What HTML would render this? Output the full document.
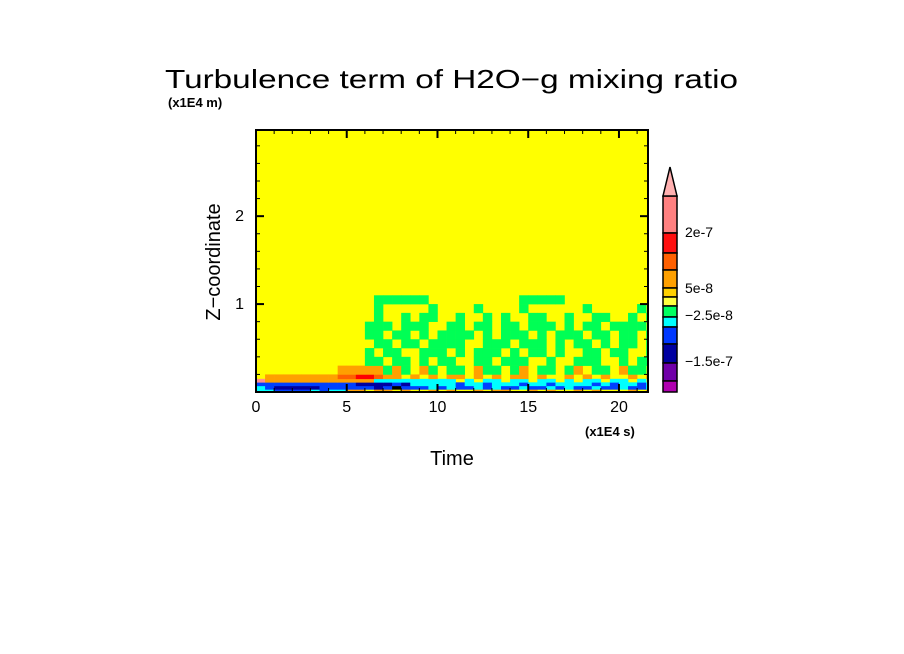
<!DOCTYPE html>
<html><head><meta charset="utf-8"><style>
html,body{margin:0;padding:0;background:#fff;}
svg{display:block;font-family:"Liberation Sans",sans-serif;}
</style></head><body>
<svg id="chart" width="904" height="654" viewBox="0 0 904 654">
<rect width="904" height="654" fill="#fff"/>
<text x="165" y="88" font-size="26" textLength="573" lengthAdjust="spacingAndGlyphs">Turbulence term of H2O−g mixing ratio</text>
<text x="168" y="107" font-size="13" font-weight="bold">(x1E4 m)</text>
<text x="0" y="0" font-size="20" transform="translate(220,262) rotate(-90)" text-anchor="middle">Z−coordinate</text>
<text x="452" y="465" font-size="20" text-anchor="middle">Time</text>
<text x="585" y="436" font-size="13" font-weight="bold">(x1E4 s)</text>
<g id="plot"></g>
<g id="axes"></g>
<g id="cbar"></g>
</svg>
<script>
const xTicks=[0,5,10,15,20];
const yTicks=[1,2];
const zEdges=[0,0.03,0.07,0.11,0.15,0.2,0.3,0.4,0.5,0.6,0.7,0.8,0.9,1.0,1.1];
const fieldRows=[
"ccbbbbcbccooyooyoyyoyoyyoyooyyoyoyyoyoyyyoyo",
"cbDDDDDbbbbbbDbBbbbcbcbbcbcbbcbbcbcbbcbbcbbc",
"bbbbbbbbbbbDDDDbDcccccbccbcccbccbccccbcbccbc",
"Poooooooooooocccccccccycyccyccyccycyccyccycy",
"yoooooooorrRRrooyoyoyooyoyoyooyoyyoyoyoyyoyo",
"yyyyyyyyyoooooGoGyoGyGGyoGGyGoyGGyGoyGGyoGGy",
"yyyyyyyyyyyyGGyGGyGyGGyyGGyGGGyyGyyGGGyyGyGG",
"yyyyyyyyyyyyGyGGyyGGGyGyGGGyGyGGyGyyGGyGGyyG",
"yyyyyyyyyyyyyGGyGGyGGGGyyGGGyGGGyGyGGyGyGGyG",
"yyyyyyyyyyyyGGyGGyGyGGGGyGyGGGyGyGGGyGGyGGyG",
"yyyyyyyyyyyyGGGyGGGyyGGyGGyGGyGGGyGyGGyGGGGy",
"yyyyyyyyyyyyyGyyGyGGyyGyyGyGyyGGyyGyyGGyyGyG",
"yyyyyyyyyyyyyGyyyyyGyyyyGyyyyGyyyyyyGyyyyyGy",
"yyyyyyyyyyyyyGGGGGGyyyyyyyyyyGGGGGyyyyyyyyyy"
];
const timeStep=0.5;
const cbLabels=["2e-7","5e-8","−2.5e-8","−1.5e-7"];
const colorCodes={y:"#ffff00",G:"#00ff55",c:"#00ffff",b:"#0040ff",D:"#0000a0",o:"#ffa000",r:"#ff6000",R:"#ff0000",P:"#ff9090"};
const cbColors=["#ff8080","#ff1010","#ff6000","#ffa000","#ffd000","#ffff40","#00ff60","#00ffff","#0038ff","#0000a0","#7000a8","#b000b0"];
const NS="http://www.w3.org/2000/svg";
const X0=256,X1=648,Y0=392,Y1=130,TMAX=21.6,ZMAX=2.98;
const xs=t=>X0+(X1-X0)*t/TMAX, ys=z=>Y0-(Y0-Y1)*z/ZMAX;
function mk(tag,attrs,parent){const e=document.createElementNS(NS,tag);for(const k in attrs)e.setAttribute(k,attrs[k]);parent.appendChild(e);return e;}
const plot=document.getElementById('plot'),axes=document.getElementById('axes'),cbar=document.getElementById('cbar');
const bg=mk('rect',{x:X0,y:Y1,width:X1-X0,height:Y0-Y1,fill:"#ffff00"},plot);


fieldRows.forEach((row,ri)=>{
  for(let i=0;i<row.length;i++){
    const ch=row[i]; if(ch==='y')continue;
    const t0=i*timeStep,t1=Math.min((i+1)*timeStep,TMAX);
    if(t0>=TMAX)continue;
    const r=mk('rect',{x:xs(t0),y:ys(zEdges[ri+1]),width:xs(t1)-xs(t0)+0.3,height:ys(zEdges[ri])-ys(zEdges[ri+1])+0.3,fill:colorCodes[ch]},plot);
    
    
  }
});
const frame=mk('rect',{x:X0,y:Y1,width:X1-X0,height:Y0-Y1,fill:"none",stroke:"#000","stroke-width":2},axes);


for(let t=0;t<=TMAX;t+=1){const big=t%5===0;
  mk('line',{x1:xs(t),x2:xs(t),y1:Y0,y2:Y0-(big?8:4),stroke:"#000","stroke-width":big?2:1},axes);
  mk('line',{x1:xs(t),x2:xs(t),y1:Y1,y2:Y1+(big?8:4),stroke:"#000","stroke-width":big?2:1},axes);}
for(let z=0.2;z<ZMAX;z+=0.2){const big=Math.abs(z-Math.round(z))<0.01;
  mk('line',{x1:X0,x2:X0+(big?8:4),y1:ys(z),y2:ys(z),stroke:"#000","stroke-width":big?2:1},axes);
  mk('line',{x1:X1,x2:X1-(big?8:4),y1:ys(z),y2:ys(z),stroke:"#000","stroke-width":big?2:1},axes);}
xTicks.forEach(v=>{const t=mk('text',{x:xs(v),y:Y0+20,"font-size":16,"text-anchor":"middle"},axes);t.textContent=v;
  
  });
yTicks.forEach(v=>{const t=mk('text',{x:X0-12,y:ys(v)+5,"font-size":16,"text-anchor":"end"},axes);t.textContent=v;
  
  });
const segY=[196,233,253,270,288,297,306,317,327,344,363,381,392];
cbColors.forEach((c,i)=>{const r=mk('rect',{x:663,y:segY[i],width:14,height:segY[i+1]-segY[i],fill:c,stroke:"#000","stroke-width":1.5},cbar);
  
  });
const tri=mk('polygon',{points:"663,196 677,196 670,167",fill:"#ffb0b0",stroke:"#000","stroke-width":1.5},cbar);


const labY=[237,293,320,366];
cbLabels.forEach((s,i)=>{const t=mk('text',{x:685,y:labY[i],"font-size":14},cbar);t.textContent=s;
  
  });
</script>
</body></html>
